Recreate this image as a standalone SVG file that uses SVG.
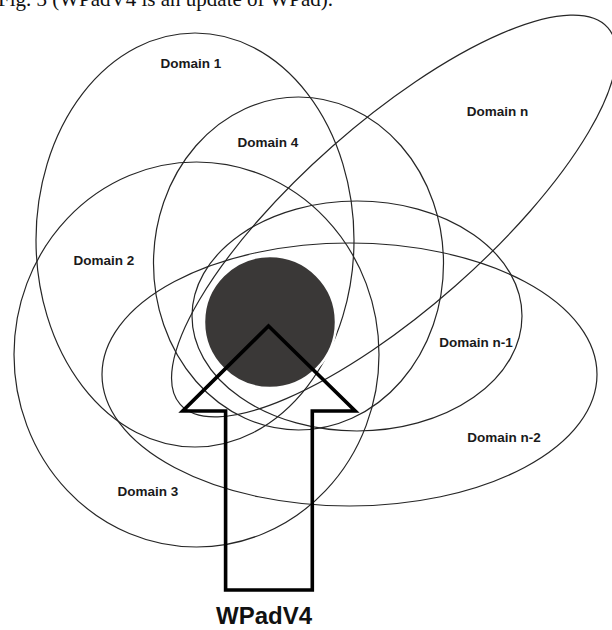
<svg xmlns="http://www.w3.org/2000/svg" width="612" height="630" viewBox="0 0 612 630">
  <style>
    .domain { fill: none; stroke: #262626; stroke-width: 1.2; }
    .label { font-family: "Liberation Sans", Arial, sans-serif; font-weight: bold; font-size: 13.5px; fill: #1a1a1a; text-anchor: middle; }
    .caption { font-family: "Liberation Serif", "Times New Roman", serif; font-size: 21px; fill: #111; }
    .title { font-family: "Liberation Sans", Arial, sans-serif; font-weight: bold; font-size: 24px; fill: #111; text-anchor: middle; }
    .arrow { fill: none; stroke: #000; stroke-width: 3.6; stroke-linejoin: miter; }
  </style>

  <rect width="612" height="630" fill="#fff"/>

  <!-- figure caption, partly above the top edge -->
  <text class="caption" x="-2" y="6">Fig. 3 (WPadV4 is an update of WPad).</text>

  <!-- overlapping domains -->
  <g id="domain-1">
    <ellipse class="domain" cx="195" cy="240" rx="159" ry="207"/>
    <text class="label" x="191" y="68">Domain 1</text>
  </g>
  <g id="domain-4">
    <ellipse class="domain" cx="298.5" cy="263.5" rx="145" ry="166.5"/>
    <text class="label" x="268" y="147">Domain 4</text>
  </g>
  <g id="domain-2">
    <ellipse class="domain" cx="196.5" cy="354.5" rx="182.5" ry="192.5"/>
    <text class="label" x="104" y="265">Domain 2</text>
  </g>
  <g id="domain-n">
    <ellipse class="domain" cx="0" cy="0" rx="285" ry="93" transform="translate(394 216) rotate(-41.4)"/>
    <text class="label" x="497.5" y="116">Domain n</text>
  </g>
  <g id="domain-n-1">
    <ellipse class="domain" cx="357" cy="316" rx="165" ry="115"/>
    <text class="label" x="476" y="347">Domain n-1</text>
  </g>
  <g id="domain-n-2">
    <ellipse class="domain" cx="349.5" cy="374.5" rx="247.5" ry="131.5"/>
    <text class="label" x="504" y="442">Domain n-2</text>
  </g>
  <g id="domain-3">
    <text class="label" x="148" y="496">Domain 3</text>
  </g>

  <!-- shared core -->
  <g id="core">
    <circle cx="270" cy="322" r="66" fill="#3a3837" stroke="#fff" stroke-width="2.5"/>
  </g>

  <!-- WPadV4 block arrow pointing into the core -->
  <g id="connectors">
    <g id="wpadv4">
      <path class="arrow" d="M268.5 326 L355.2 411 L312.3 411 L312.3 590 L225.6 590 L225.6 411 L182.7 411 Z"/>
      <text class="title" x="264" y="624">WPadV4</text>
    </g>
  </g>
</svg>
